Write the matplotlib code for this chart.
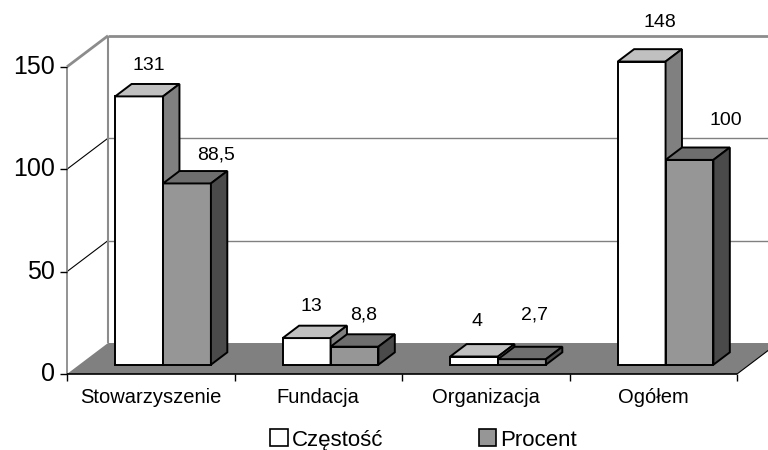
import matplotlib
matplotlib.use('Agg')
import matplotlib.pyplot as plt
from matplotlib.patches import Polygon, Patch

# ---- data ----
categories = ['Stowarzyszenie', 'Fundacja', 'Organizacja', 'Ogółem']
czestosc = [131, 13, 4, 148]
procent = [88.5, 8.8, 2.7, 100]
czestosc_labels = ['131', '13', '4', '148']
procent_labels = ['88,5', '8,8', '2,7', '100']
y_ticks = [0, 50, 100, 150]
series_names = ['Częstość', 'Procent']

# ---- style / layout ----
plt.rcParams['font.family'] = ['Liberation Sans', 'DejaVu Sans']
W, H = 768, 450
fig = plt.figure(figsize=(W / 100, H / 100), dpi=100)
ax = fig.add_axes([0, 0, 1, 1])
XL = (-0.4, 4.185)
YL = (-37.1, 182.6)
ax.set_xlim(*XL)
ax.set_ylim(*YL)
ax.axis('off')
UX = (XL[1] - XL[0]) / W   # data units per pixel
UY = (YL[1] - YL[0]) / H

DX, DY = 41 * UX, 31 * UY   # oblique depth offset of the back wall
N = len(categories)
YMAX = y_ticks[-1]
bw = 1 / 3.5
off = 0.75 * bw
d0, d1 = 0.3, 0.7

white_cols = ('#ffffff', '#c0c0c0', '#808080')
gray_cols = ('#969696', '#6e6e6e', '#4a4a4a')

white_nudge = [(1, 25), (-3, 25), (-5, 29), (10, 33)]
gray_nudge = [(21, 22), (1, 25), (4, 38), (28, 33)]


def P(x, v, d):
    return (x + d * DX, v + d * DY)


zc = [1]


def poly(pts, fc, ec='none', lw=0.0):
    ax.add_patch(Polygon([P(*p) for p in pts], closed=True, facecolor=fc,
                         edgecolor=ec, linewidth=lw, joinstyle='miter',
                         zorder=zc[0]))
    zc[0] += 1


def line(p1, p2, color, lw):
    a, b = P(*p1), P(*p2)
    ax.plot([a[0], b[0]], [a[1], b[1]], color=color, lw=lw,
            zorder=zc[0], solid_capstyle='butt')
    zc[0] += 1


# walls
poly([(0, 0, 1), (N, 0, 1), (N, YMAX, 1), (0, YMAX, 1)], 'white')
poly([(0, 0, 0), (0, 0, 1), (0, YMAX, 1), (0, YMAX, 0)], 'white')
for t in y_ticks[1:-1]:
    line((0, t, 1), (N, t, 1), '#808080', 1.0)
    line((0, t, 0), (0, t, 1), 'black', 0.8)
line((0, YMAX, 1), (N, YMAX, 1), '#8c8c8c', 2.0)
line((0, YMAX, 0), (0, YMAX, 1), '#8c8c8c', 2.0)
line((0, 0, 1), (0, YMAX, 1), '#8c8c8c', 1.5)

# floor
poly([(0, 0, 0), (N, 0, 0), (N, 0, 1), (0, 0, 1)], '#808080')
line((N, 0, 0), (N, 0, 1), 'black', 0.8)

# axes lines and ticks
line((0, 0, 0), (0, YMAX, 0), '#808080', 1.2)
line((0, 0, 0), (N, 0, 0), 'black', 1.2)
for t in y_ticks:
    line((-7 * UX, t, 0), (0, t, 0), 'black', 1.0)
    ax.text(-12 * UX, t, str(t), ha='right', va='center', fontsize=18,
            zorder=100)
for i in range(N + 1):
    line((i, 0, 0), (i, -7 * UY, 0), 'black', 1.0)
for i, c in enumerate(categories):
    ax.text(i + 0.5, -29 * UY, c, ha='center', va='baseline',
            fontsize=14.5, zorder=100)


def bar(xa, xb, h, cols):
    fc, tc, sc = cols
    poly([(xa, 0, d0), (xb, 0, d0), (xb, h, d0), (xa, h, d0)], fc, 'black', 1.4)
    poly([(xa, h, d0), (xb, h, d0), (xb, h, d1), (xa, h, d1)], tc, 'black', 1.4)
    poly([(xb, 0, d0), (xb, 0, d1), (xb, h, d1), (xb, h, d0)], sc, 'black', 1.4)


for i in range(N):
    xa = i + off
    bar(xa, xa + bw, czestosc[i], white_cols)
    bar(xa + bw, xa + 2 * bw, procent[i], gray_cols)

for i in range(N):
    xa = i + off
    for xc, h, lab, nud in ((xa + bw / 2, czestosc[i], czestosc_labels[i], white_nudge[i]),
                            (xa + 1.5 * bw, procent[i], procent_labels[i], gray_nudge[i])):
        ax.annotate(lab, P(xc, h, 0.5), xytext=nud, textcoords='offset pixels',
                    ha='center', va='center', fontsize=14, zorder=200)

handles = [Patch(facecolor=white_cols[0], edgecolor='black', linewidth=1.2),
           Patch(facecolor=gray_cols[0], edgecolor='black', linewidth=1.2)]
fig.legend(handles=handles, labels=series_names, loc='center',
           bbox_to_anchor=(0.5514, 0.0222), bbox_transform=fig.transFigure,
           ncol=2, frameon=False, fontsize=16, handlelength=0.8,
           handleheight=0.8, handletextpad=0.15, columnspacing=4.3,
           borderpad=0)

fig.savefig('out.png', dpi=100)
